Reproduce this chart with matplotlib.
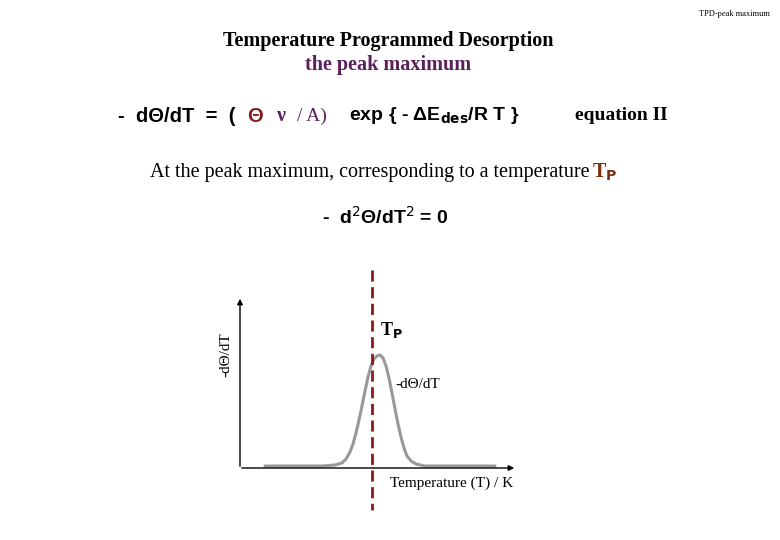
import matplotlib
matplotlib.use("Agg")
import matplotlib.pyplot as plt

# curve (pixel x, height above baseline in px)
curve_x = [265, 308, 322, 335, 342, 346, 350, 353, 356, 359, 362, 365, 368, 371, 374, 377, 380,
           383, 386, 389, 392, 395, 398, 401, 404, 407, 411, 416, 425, 440, 495]
curve_h = [0, 0, 0, 1, 3, 7, 14, 22, 33, 46, 60, 75, 89, 100, 107, 110, 111,
           108, 100, 88, 73, 57, 42, 29, 18, 10, 5, 2, 0, 0, 0]
BASE_Y = 466
TP_X = 372

DARKRED = "#8B1A1A"
PURPLE = "#5B1F5B"
GRAY = "#999999"

fig = plt.figure(figsize=(7.8, 5.4), dpi=100)
ax = fig.add_axes([0, 0, 1, 1])
ax.set_xlim(0, 780)
ax.set_ylim(540, 0)
ax.axis("off")

serif = "Liberation Serif"
sans = "Liberation Sans"

ax.text(770, 14, "TPD-peak maximum", ha="right", va="center", fontsize=6, family=serif)
ax.text(388, 41, "Temperature Programmed Desorption", ha="center", va="center",
        fontsize=14.5, fontweight="bold", family=serif)
ax.text(388, 65, "the peak maximum", ha="center", va="center",
        fontsize=14.5, fontweight="bold", family=serif, color=PURPLE)

# equation line
ax.text(118, 116, "-  d\u0398/dT  =  (", ha="left", va="center", fontsize=14.5, fontweight="bold", family=sans)
ax.text(247, 116, "\u0398", ha="left", va="center", fontsize=14.5, fontweight="bold", family=sans, color=DARKRED)
ax.text(277, 116, "\u03bd", ha="left", va="center", fontsize=14.5, fontweight="bold", family=serif, color=PURPLE)
ax.text(297, 116, "/ A)", ha="left", va="center", fontsize=14, family=serif, color=PURPLE)
ax.text(349, 116, "exp { - \u0394E$_{\\mathbf{des}}$/R T }", ha="left", va="center",
        fontsize=14, fontweight="bold", family=sans)
ax.text(575, 116, "equation II", ha="left", va="center", fontsize=14, fontweight="bold", family=serif)

ax.text(150, 172, "At the peak maximum, corresponding to a temperature ", ha="left", va="center",
        fontsize=14.5, family=serif)
ax.text(592, 172, "T$_{\\mathbf{P}}$", ha="left", va="center", fontsize=14.5, fontweight="bold",
        family=serif, color="#7A3010")

ax.text(322, 217, "-  d$^2$\u0398/dT$^2$ = 0", ha="left", va="center", fontsize=14, fontweight="bold", family=sans)

# axes of the sketch
ax.annotate("", xy=(240, 296), xytext=(240, 469),
            arrowprops=dict(arrowstyle="-|>", color="black", lw=1, mutation_scale=8))
ax.annotate("", xy=(517, 468), xytext=(239, 468),
            arrowprops=dict(arrowstyle="-|>", color="black", lw=1, mutation_scale=8))

ax.plot(curve_x, [BASE_Y - h for h in curve_h], color=GRAY, lw=2.2,
        solid_capstyle="round", solid_joinstyle="round")
ax.plot([TP_X, TP_X], [270, 510], color=DARKRED, lw=2, ls=(0, (4, 2)))

ax.text(380, 330, "T$_{\\mathbf{P}}$", ha="left", va="center", fontsize=13, fontweight="bold", family=serif)
ax.text(395, 385, "-d\u0398/dT", ha="left", va="center", fontsize=11, family=serif)
ax.text(390, 483, "Temperature (T) / K", ha="left", va="center", fontsize=11, family=serif)
ax.text(226, 355, "-d\u0398/dT", ha="center", va="center", fontsize=11, family=serif, rotation=90)

fig.savefig("out.png", dpi=100, facecolor="white")
